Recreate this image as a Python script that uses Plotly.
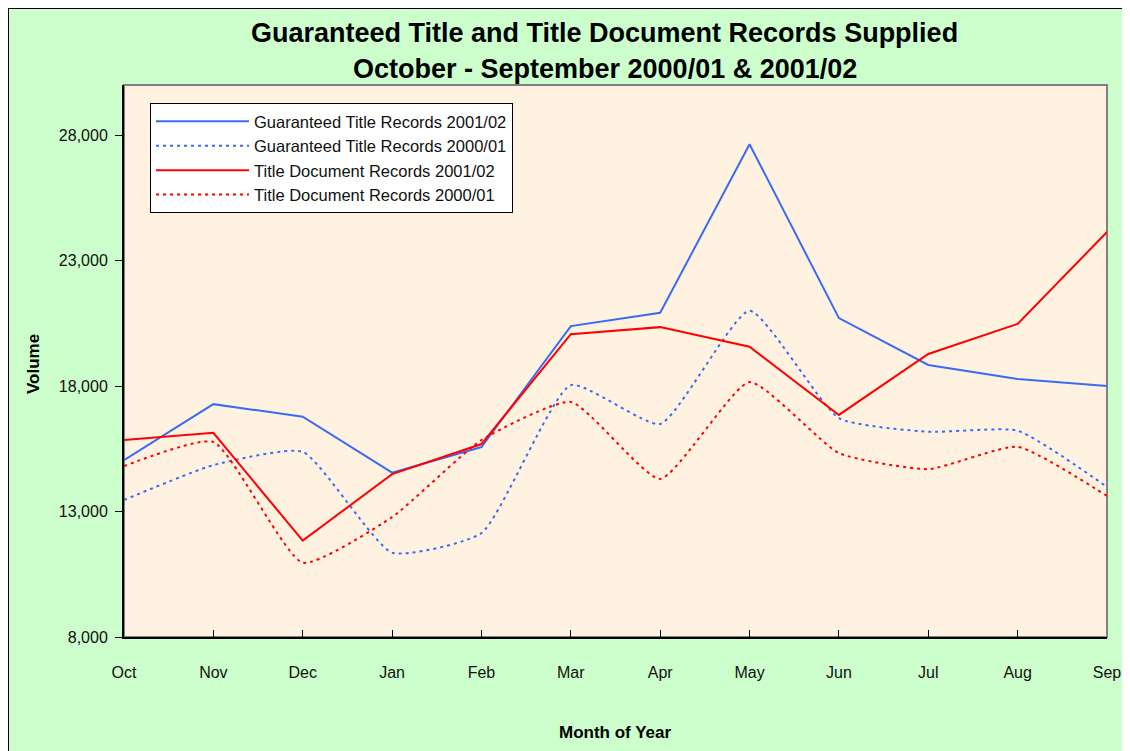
import plotly.graph_objects as go

months = ["Oct", "Nov", "Dec", "Jan", "Feb", "Mar", "Apr", "May", "Jun", "Jul", "Aug", "Sep"]
gt_2001 = [15050, 17280, 16780, 14550, 15570, 20390, 20920, 27640, 20710, 18840, 18280, 18000]
gt_2000 = [13460, 14850, 15380, 11360, 12140, 18040, 16490, 21000, 16720, 16180, 16220, 13980]
td_2001 = [15850, 16140, 11840, 14490, 15690, 20070, 20350, 19570, 16850, 19280, 20480, 24140]
td_2000 = [14810, 15770, 10960, 12780, 15850, 17370, 14300, 18160, 15330, 14690, 15580, 13620]
y_ticks = [8000, 13000, 18000, 23000, 28000]

BLUE = "#3B6BF5"
RED = "#FF0000"
FONT = "Liberation Sans, Arial, sans-serif"

fig = go.Figure()
fig.add_trace(go.Scatter(x=months, y=gt_2001, mode="lines", name="Guaranteed Title Records 2001/02",
                         line=dict(color=BLUE, width=2)))
fig.add_trace(go.Scatter(x=months, y=gt_2000, mode="lines", name="Guaranteed Title Records 2000/01",
                         line=dict(color=BLUE, width=2, dash="3px,4px", shape="spline", smoothing=0.5)))
fig.add_trace(go.Scatter(x=months, y=td_2001, mode="lines", name="Title Document Records 2001/02",
                         line=dict(color=RED, width=2)))
fig.add_trace(go.Scatter(x=months, y=td_2000, mode="lines", name="Title Document Records 2000/01",
                         line=dict(color=RED, width=2, dash="3px,4px", shape="spline", smoothing=0.5)))

W, H = 1130, 751
OFF = 8  # page body margin: figure origin sits at page (8, 8)
L, R, T, B = 124 - OFF, 1107 - OFF, 85 - OFF, 637 - OFF
pw, ph = R - L, B - T

def px(x):  # page pixel -> paper coord
    return (x - OFF - L) / pw

def py(y):
    return (B - (y - OFF)) / ph

shapes = [
    # outer black frame around the whole figure
    dict(type="rect", xref="paper", yref="paper", x0=px(8), x1=px(8 + W), y0=py(8 + H), y1=py(8),
         line=dict(color="black", width=2), fillcolor="rgba(0,0,0,0)", layer="below"),
    # plot area grey border
    dict(type="rect", xref="paper", yref="paper", x0=0, x1=1, y0=0, y1=1,
         line=dict(color="#808080", width=2), fillcolor="rgba(0,0,0,0)", layer="below"),
]

annotations = [
    dict(text="<b>Guaranteed Title and Title Document Records Supplied</b>", x=px(604.5), y=py(33),
         xref="paper", yref="paper", xanchor="center", yanchor="middle", showarrow=False,
         font=dict(family=FONT, size=27, color="black")),
    dict(text="<b>October - September 2000/01 & 2001/02</b>", x=px(604.5), y=py(69),
         xref="paper", yref="paper", xanchor="center", yanchor="middle", showarrow=False,
         font=dict(family=FONT, size=27, color="black")),
    dict(text="<b>Month of Year</b>", x=px(614.5), y=py(733),
         xref="paper", yref="paper", xanchor="center", yanchor="middle", showarrow=False,
         font=dict(family=FONT, size=17, color="black")),
    dict(text="<b>Volume</b>", x=px(33), y=py(364), textangle=-90,
         xref="paper", yref="paper", xanchor="center", yanchor="middle", showarrow=False,
         font=dict(family=FONT, size=17, color="black")),
]

fig.update_layout(
    width=W, height=H,
    margin=dict(l=L, r=W - R, t=T, b=H - B, pad=0),
    paper_bgcolor="#CCFFCC",
    plot_bgcolor="#FFF2E0",
    font=dict(family=FONT, size=16, color="#111111"),
    showlegend=True,
    legend=dict(x=px(150), y=py(103), xanchor="left", yanchor="top",
                bgcolor="white", bordercolor="black", borderwidth=1,
                font=dict(family=FONT, size=16.5, color="#111111"),
                itemwidth=93, tracegroupgap=0),
    shapes=shapes,
    annotations=annotations,
    xaxis=dict(type="category", categoryorder="array", categoryarray=months, range=[0, 11],
               showgrid=False, zeroline=False, showline=True, linecolor="black", linewidth=2,
               ticks="inside", ticklen=7, tickcolor="black", tickwidth=1,
               ticklabelstandoff=20, tickfont=dict(size=16)),
    yaxis=dict(range=[8000, 30000], tickvals=y_ticks, tickformat=",",
               showgrid=False, zeroline=False, showline=True, linecolor="black", linewidth=2,
               ticks="outside", ticklen=7, tickcolor="black", tickwidth=1,
               ticklabelstandoff=4, tickfont=dict(size=16)),
)

fig.write_html("out.html")
